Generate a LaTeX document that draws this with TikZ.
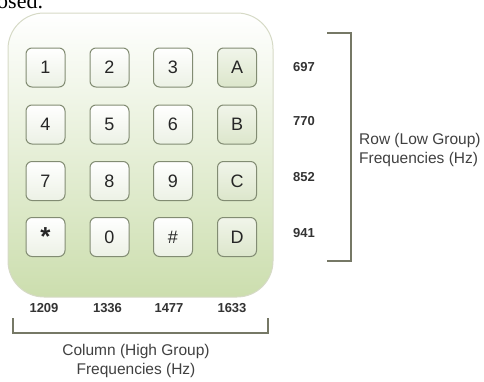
\documentclass[tikz,border=0pt]{standalone}
\usepackage{fontspec}
\setmainfont{Liberation Sans}
\newfontfamily\cutfont{Liberation Serif}
\definecolor{padgreen}{RGB}{204,222,174}
\definecolor{padedge}{RGB}{214,218,198}
\definecolor{keyedge}{RGB}{130,140,115}
\definecolor{keylow}{RGB}{236,241,229}
\definecolor{keyhigh}{RGB}{220,230,203}
\definecolor{brack}{RGB}{118,120,102}
\begin{document}
\begin{tikzpicture}[x=1pt, y=-1pt,
  pad/.style={rectangle, rounded corners=36pt, draw=padedge, line width=1pt,
              top color=white, middle color=padgreen!45, bottom color=padgreen,
              minimum width=265pt, minimum height=284pt},
  key/.style={rectangle, rounded corners=6pt, draw=keyedge, line width=1pt,
              top color=white, bottom color=keylow,
              minimum width=39pt, minimum height=39pt, inner sep=0pt,
              font=\fontsize{18}{18}\selectfont, text=black!85},
  letterkey/.style={key, top color=keyhigh!40, bottom color=keyhigh},
  freq/.style={font=\bfseries\fontsize{13}{13}\selectfont, text=black!80},
  caption/.style={font=\fontsize{15.5}{19}\selectfont, text=black!75},
  bracket/.style={draw=brack, line width=2pt}
]
\useasboundingbox (0,0) rectangle (484,381);

\node[anchor=base west, inner sep=0pt, font=\cutfont\fontsize{22}{22}\selectfont] (cut) at (-3,8) {osed.};

% keypad
\node[pad] (pad) at (140.5,155) {};

\node[key] (k1) at (45.5,67.5) {1};
\node[key] (k2) at (109.5,67.5) {2};
\node[key] (k3) at (173,67.5) {3};
\node[letterkey] (kA) at (237,67.5) {A};
\node[key] (k4) at (45.5,124.5) {4};
\node[key] (k5) at (109.5,124.5) {5};
\node[key] (k6) at (173,124.5) {6};
\node[letterkey] (kB) at (237,124.5) {B};
\node[key] (k7) at (45.5,181) {7};
\node[key] (k8) at (109.5,181) {8};
\node[key] (k9) at (173,181) {9};
\node[letterkey] (kC) at (237,181) {C};
\node[key] (kstar) at (45.5,237) {\raisebox{-0.5ex}{\bfseries\fontsize{26}{26}\selectfont *}};
\node[key] (k0) at (109.5,237) {0};
\node[key] (khash) at (173,237) {\#};
\node[letterkey] (kD) at (237,237) {D};

% row frequencies
\node[freq] (f697) at (304,67) {697};
\node[freq] (f770) at (304,121) {770};
\node[freq] (f852) at (304,177) {852};
\node[freq] (f941) at (304,233) {941};

% column frequencies
\node[freq] (f1209) at (44,308) {1209};
\node[freq] (f1336) at (107.5,308) {1336};
\node[freq] (f1477) at (169,308) {1477};
\node[freq] (f1633) at (232,308) {1633};

% brackets
\coordinate (rtop) at (327,33);
\coordinate (rbot) at (327,261);
\draw[bracket] (rtop) -- ++(24,0) |- (rbot);
\coordinate (cleft) at (13,318);
\coordinate (cright) at (268,318);
\draw[bracket] (cleft) -- ++(0,15) -| (cright);

\node[caption, anchor=west, align=left, inner sep=0pt] (rowcap) at (359,150) {Row (Low Group)\\Frequencies (Hz)};
\node[caption, align=center] (colcap) at (136,361) {Column (High Group)\\Frequencies (Hz)};
\end{tikzpicture}
\end{document}
